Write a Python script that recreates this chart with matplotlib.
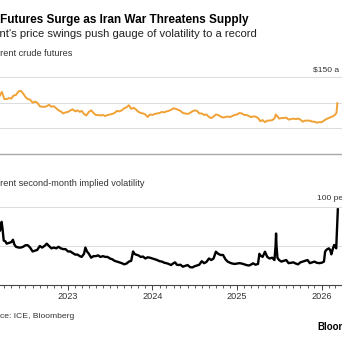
import matplotlib as mpl
mpl.use('Agg')
import matplotlib.pyplot as plt
import matplotlib.dates as mdates
import pandas as pd

plt.rcParams['font.family'] = ['Liberation Sans', 'DejaVu Sans']

# Brent front-month futures, $ per barrel
brent_dates = [
    '2022-03-13', '2022-03-21', '2022-04-01', '2022-04-11', '2022-04-21', '2022-05-01', '2022-05-11', '2022-05-21',
    '2022-06-01', '2022-06-11', '2022-06-21', '2022-07-01', '2022-07-11', '2022-07-21', '2022-08-01', '2022-08-11',
    '2022-08-21', '2022-09-01', '2022-09-11', '2022-09-21', '2022-10-01', '2022-10-11', '2022-10-21', '2022-11-01',
    '2022-11-11', '2022-11-21', '2022-12-01', '2022-12-11', '2022-12-21', '2023-01-01', '2023-01-11', '2023-01-21',
    '2023-02-01', '2023-02-11', '2023-02-21', '2023-03-01', '2023-03-11', '2023-03-21', '2023-04-01', '2023-04-11',
    '2023-04-21', '2023-05-01', '2023-05-11', '2023-05-21', '2023-06-01', '2023-06-11', '2023-06-21', '2023-07-01',
    '2023-07-11', '2023-07-21', '2023-08-01', '2023-08-11', '2023-08-21', '2023-09-01', '2023-09-11', '2023-09-21',
    '2023-10-01', '2023-10-11', '2023-10-21', '2023-11-01', '2023-11-11', '2023-11-21', '2023-12-01', '2023-12-11',
    '2023-12-21', '2024-01-01', '2024-01-11', '2024-01-21', '2024-02-01', '2024-02-11', '2024-02-21', '2024-03-01',
    '2024-03-11', '2024-03-21', '2024-04-01', '2024-04-11', '2024-04-21', '2024-05-01', '2024-05-11', '2024-05-21',
    '2024-06-01', '2024-06-11', '2024-06-21', '2024-07-01', '2024-07-11', '2024-07-21', '2024-08-01', '2024-08-11',
    '2024-08-21', '2024-09-01', '2024-09-11', '2024-09-21', '2024-10-01', '2024-10-11', '2024-10-21', '2024-11-01',
    '2024-11-11', '2024-11-21', '2024-12-01', '2024-12-11', '2024-12-21', '2025-01-01', '2025-01-11', '2025-01-21',
    '2025-02-01', '2025-02-11', '2025-02-21', '2025-03-01', '2025-03-11', '2025-03-21', '2025-04-01', '2025-04-11',
    '2025-04-21', '2025-05-01', '2025-05-11', '2025-05-21', '2025-06-01', '2025-06-11', '2025-06-17', '2025-06-21',
    '2025-07-01', '2025-07-11', '2025-07-21', '2025-08-01', '2025-08-11', '2025-08-21', '2025-09-01', '2025-09-11',
    '2025-09-21', '2025-10-01', '2025-10-11', '2025-10-21', '2025-11-01', '2025-11-11', '2025-11-21', '2025-12-01',
    '2025-12-11', '2025-12-21', '2026-01-01', '2026-01-11', '2026-01-21', '2026-02-01', '2026-02-11', '2026-02-21',
    '2026-03-01', '2026-03-06', '2026-03-10',
]
brent_price = [
    114, 121, 107, 107, 109, 108, 114, 115,
    122, 123, 118, 111, 107, 106, 100, 102,
    100, 93, 92, 92, 93, 96, 92, 93,
    89, 85, 83, 79, 81, 82, 85, 87,
    83, 85, 82, 84, 78, 75, 82, 85,
    80, 76, 76, 75, 76, 74, 76, 77,
    78, 80, 84, 83, 85, 89, 91, 95,
    88, 90, 87, 82, 80, 79, 77, 72,
    77, 76, 78, 79, 80, 82, 81, 83,
    84, 86, 89, 88, 86, 84, 80, 79,
    78, 80, 83, 85, 84, 79, 79, 76,
    77, 72, 70, 73, 77, 76, 73, 71,
    72, 73, 72, 74, 76, 77, 80, 79,
    76, 76, 74, 72, 73, 73, 70, 64,
    66, 62, 65, 65, 66, 69, 77, 75,
    69, 70, 70, 71, 67, 68, 69, 68,
    69, 67, 63, 65, 65, 65, 63, 63,
    61, 62, 62, 65, 68, 70, 72, 74,
    77, 80, 99,
]

# Brent second-month implied volatility, percent
vol_dates = [
    '2022-03-13', '2022-03-16', '2022-03-20', '2022-03-24', '2022-03-29', '2022-04-05', '2022-04-11', '2022-04-21',
    '2022-05-01', '2022-05-08', '2022-05-14', '2022-05-21', '2022-06-01', '2022-06-11', '2022-06-21', '2022-07-01',
    '2022-07-11', '2022-07-21', '2022-08-01', '2022-08-11', '2022-08-21', '2022-09-01', '2022-09-11', '2022-09-21',
    '2022-10-01', '2022-10-11', '2022-10-21', '2022-11-01', '2022-11-11', '2022-11-21', '2022-12-01', '2022-12-11',
    '2022-12-21', '2023-01-01', '2023-01-11', '2023-01-21', '2023-02-01', '2023-02-11', '2023-02-21', '2023-03-01',
    '2023-03-11', '2023-03-17', '2023-03-24', '2023-04-01', '2023-04-11', '2023-04-21', '2023-05-01', '2023-05-11',
    '2023-05-21', '2023-06-01', '2023-06-11', '2023-06-21', '2023-07-01', '2023-07-11', '2023-07-21', '2023-08-01',
    '2023-08-11', '2023-08-21', '2023-09-01', '2023-09-11', '2023-09-21', '2023-10-01', '2023-10-09', '2023-10-15',
    '2023-10-21', '2023-11-01', '2023-11-11', '2023-11-21', '2023-12-01', '2023-12-11', '2023-12-21', '2024-01-01',
    '2024-01-11', '2024-01-21', '2024-02-01', '2024-02-11', '2024-02-21', '2024-03-01', '2024-03-11', '2024-03-21',
    '2024-04-01', '2024-04-08', '2024-04-15', '2024-04-21', '2024-05-01', '2024-05-11', '2024-05-21', '2024-06-01',
    '2024-06-11', '2024-06-21', '2024-07-01', '2024-07-11', '2024-07-21', '2024-08-01', '2024-08-11', '2024-08-21',
    '2024-09-01', '2024-09-11', '2024-09-21', '2024-10-01', '2024-10-11', '2024-10-21', '2024-11-01', '2024-11-11',
    '2024-11-21', '2024-12-01', '2024-12-11', '2024-12-21', '2025-01-01', '2025-01-11', '2025-01-21', '2025-02-01',
    '2025-02-11', '2025-02-21', '2025-03-01', '2025-03-11', '2025-03-21', '2025-04-01', '2025-04-07', '2025-04-11',
    '2025-04-21', '2025-05-01', '2025-05-11', '2025-05-21', '2025-06-01', '2025-06-11', '2025-06-16', '2025-06-18',
    '2025-06-20', '2025-06-24', '2025-07-01', '2025-07-11', '2025-07-21', '2025-08-01', '2025-08-11', '2025-08-21',
    '2025-09-01', '2025-09-11', '2025-09-21', '2025-10-01', '2025-10-11', '2025-10-21', '2025-11-01', '2025-11-11',
    '2025-11-21', '2025-12-01', '2025-12-11', '2025-12-21', '2026-01-01', '2026-01-11', '2026-01-16', '2026-01-21',
    '2026-02-01', '2026-02-07', '2026-02-12', '2026-02-18', '2026-02-24', '2026-03-01', '2026-03-05', '2026-03-09',
    '2026-03-12',
]
vol_level = [
    70, 74, 81, 72, 57, 56, 53, 54,
    55, 58, 52, 49, 48, 48, 49, 51,
    51, 48, 43, 44, 45, 50, 48, 50,
    53, 50, 47, 48, 47, 49, 47, 46,
    46, 43, 43, 41, 39, 39, 37, 36,
    40, 48, 43, 40, 35, 37, 37, 38,
    36, 37, 36, 36, 34, 33, 31, 30,
    29, 28, 26.5, 27.5, 30, 31, 43, 40,
    39, 38, 36, 36.5, 34, 35.5, 35, 34,
    33, 32, 30.5, 30, 28.5, 28, 27, 25.6,
    28, 29, 26, 25.6, 26, 23.5, 24.5, 25.6,
    23, 22.5, 24, 25, 26, 30.5, 28, 29.5,
    34, 32, 34, 42.7, 40, 38.5, 38.5, 33,
    30, 28.5, 27.5, 27, 27.5, 28, 27.5, 26.5,
    25.5, 25, 26, 27.8, 26, 27, 40, 38,
    36, 42.7, 36, 34, 35, 32, 50, 66,
    50, 35, 32, 30, 31, 32, 28, 28.5,
    29, 27.5, 26.5, 29, 30, 31, 32, 28,
    29, 30, 28.5, 28, 28.5, 30, 42.7, 45,
    47, 44.9, 39.3, 46, 51.3, 49, 47, 77,
    97,
]

year_labels = ['2023', '2024', '2025', '2026']

SIZE = 342
ORANGE = '#f0a236'
GRID = '#dcdcdc'

fig = plt.figure(figsize=(3.42, 3.42), dpi=100)
fig.patch.set_facecolor('white')
renderer = fig.canvas.get_renderer()


def fy(y_px):
    return 1 - y_px / SIZE


def left_cut(y_px, hidden, shown, **kw):
    # place text so that only `shown` starts at the left edge
    full = fig.text(0, fy(y_px), hidden + shown, va='center', **kw)
    part = fig.text(0, fy(y_px), shown, va='center', **kw)
    offset = full.get_window_extent(renderer).width - part.get_window_extent(renderer).width
    part.remove()
    full.set_x(-offset / SIZE)


x_left = pd.Timestamp('2022-03-13')
x_right = pd.Timestamp('2026-03-30')

# top panel: crude futures
ax1 = fig.add_axes([0, fy(154), 1, 77 / SIZE])
ax1.plot(pd.to_datetime(brent_dates), brent_price, color=ORANGE, lw=1.4, solid_joinstyle='round')
for v in [50, 100, 150]:
    ax1.axhline(v, color=GRID, lw=0.7, zorder=0, clip_on=False)
ax1.axhline(0, color='#a8a8a8', lw=1.0, zorder=0, clip_on=False)
ax1.set_ylim(0, 150)
ax1.set_xlim(x_left, x_right)
ax1.axis('off')

# bottom panel: implied volatility
ax2 = fig.add_axes([0, fy(285), 1, 78 / SIZE])
ax2.plot(pd.to_datetime(vol_dates), vol_level, color='black', lw=1.7, solid_joinstyle='round')
for v in [50, 100]:
    ax2.axhline(v, color=GRID, lw=0.7, zorder=0, clip_on=False)
ax2.set_ylim(0, 100)
ax2.set_xlim(x_left, x_right)
for s in ['left', 'right', 'top']:
    ax2.spines[s].set_visible(False)
ax2.spines['bottom'].set_color('#444444')
ax2.spines['bottom'].set_linewidth(0.8)
ax2.set_yticks([])
ax2.xaxis.set_minor_locator(mdates.MonthLocator())
ax2.set_xticks(pd.to_datetime([y + '-01-01' for y in year_labels]))
ax2.set_xticklabels(year_labels)
ax2.tick_params(axis='x', which='major', length=3.5, width=0.7, color='#444444',
                labelsize=6.6, labelcolor='#333333', pad=1.5)
ax2.tick_params(axis='x', which='minor', length=2, width=0.6, color='#444444')

# titles and labels
left_cut(20, 'Oil ', 'Futures Surge as Iran War Threatens Supply', fontsize=8.5, fontweight='bold', color='black')
left_cut(34, 'Bre', "nt's price swings push gauge of volatility to a record", fontsize=8.1, color='#222222')
left_cut(53, 'B', 'rent crude futures', fontsize=6.6, color='#333333')
left_cut(183, 'B', 'rent second-month implied volatility', fontsize=6.6, color='#333333')
left_cut(316, 'Sour', 'ce: ICE, Bloomberg', fontsize=6.1, color='#333333')

fig.text(313 / SIZE, fy(70), '$150 a barrel', fontsize=6.1, color='#333333', va='center')
fig.text(317 / SIZE, fy(199), '100 percent', fontsize=6.1, color='#333333', va='center')
fig.text(317 / SIZE, fy(327), 'Bloomberg', fontsize=7, fontweight='bold', color='black', va='center')

fig.savefig('out.png', dpi=100, facecolor='white')
